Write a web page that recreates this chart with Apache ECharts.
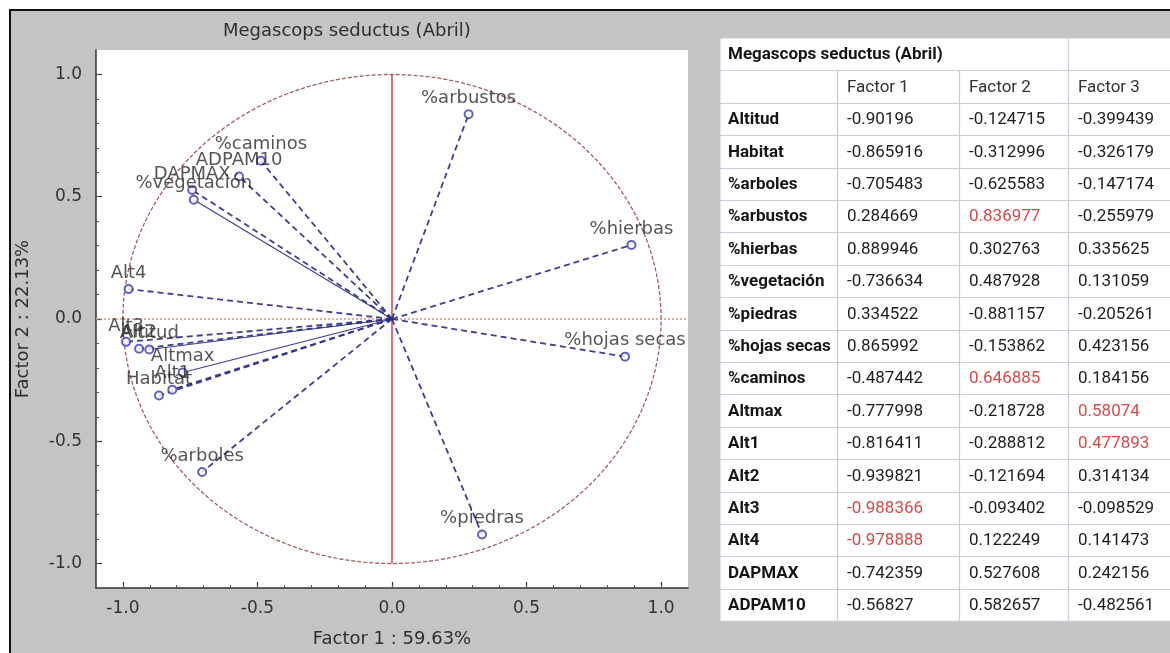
<!DOCTYPE html>
<html><head><meta charset="utf-8">
<script src="https://cdn.jsdelivr.net/npm/echarts@6/dist/echarts.min.js"></script>
<style>html,body{margin:0;padding:0;background:#fff}#c{width:1170px;height:653px}</style>
</head><body><div id="c"></div>
<script>
// ---------- data ----------
const chartTitle = 'Megascops seductus (Abril)';
const xAxisName = 'Factor 1 : 59.63%';
const yAxisName = 'Factor 2 : 22.13%';
const variables = ['Altitud','Habitat','%arboles','%arbustos','%hierbas','%vegetación','%piedras','%hojas secas','%caminos','Altmax','Alt1','Alt2','Alt3','Alt4','DAPMAX','ADPAM10'];
const factor1 = [-0.90196,-0.865916,-0.705483,0.284669,0.889946,-0.736634,0.334522,0.865992,-0.487442,-0.777998,-0.816411,-0.939821,-0.988366,-0.978888,-0.742359,-0.56827];
const factor2 = [-0.124715,-0.312996,-0.625583,0.836977,0.302763,0.487928,-0.881157,-0.153862,0.646885,-0.218728,-0.288812,-0.121694,-0.093402,0.122249,0.527608,0.582657];
const factor3 = [-0.399439,-0.326179,-0.147174,-0.255979,0.335625,0.131059,-0.205261,0.423156,0.184156,0.58074,0.477893,0.314134,-0.098529,0.141473,0.242156,-0.482561];
const tableColumns = ['Factor 1','Factor 2','Factor 3'];
const highlightedCells = [['%arbustos',1],['%caminos',1],['Altmax',2],['Alt1',2],['Alt3',0],['Alt4',0]];
const majorTicks = [-1.0,-0.5,0.0,0.5,1.0];
const minorTicks = [-1.0,-0.9,-0.8,-0.7,-0.6,-0.5,-0.4,-0.3,-0.2,-0.1,0.0,0.1,0.2,0.3,0.4,0.5,0.6,0.7,0.8,0.9,1.0];
const solidLineVars = ['%vegetación','Altmax','Altitud'];

// ---------- layout / style ----------
const PLOT_FONT = "'DejaVu Sans', Arial, sans-serif";
const TABLE_FONT = "Roboto, 'Liberation Sans', sans-serif";
const AX = { min: -1.1, max: 1.1 };

// unit circle guide (geometry, not data)
const circlePts = [];
for (let a = 0; a <= 360; a += 2) {
  const r = a * Math.PI / 180;
  circlePts.push([Math.cos(r), Math.sin(r)]);
}

const pointData = variables.map((n, i) => ({ name: n, value: [factor1[i], factor2[i]] }));
const lineData = variables.map((n, i) => ({
  coords: [[0, 0], [factor1[i], factor2[i]]],
  lineStyle: solidLineVars.includes(n) ? { type: 'solid', width: 1.2 } : { type: [6, 4], width: 1.8 }
}));

// ---------- table graphic ----------
const colX = [720, 837, 959, 1068, 1195];
const tableTop = 38, rowH = 32.4;
const gridColor = '#c4ccd8';
const redSet = new Set(highlightedCells.map(d => d[0] + '|' + d[1]));
const tableEls = [];
const nRows = variables.length + 2;
tableEls.push({ type: 'rect', shape: { x: colX[0], y: tableTop, width: colX[4] - colX[0], height: rowH * nRows }, style: { fill: '#fff', stroke: gridColor, lineWidth: 1 } });
for (let r = 1; r < nRows; r++) {
  const y = Math.round(tableTop + r * rowH) + 0.5;
  tableEls.push({ type: 'line', shape: { x1: colX[0], y1: y, x2: colX[4], y2: y }, style: { stroke: gridColor, lineWidth: 1.2 } });
}
for (let c = 1; c < 4; c++) {
  const x = colX[c] + 0.5;
  const y1 = c === 3 ? tableTop : tableTop + rowH;
  tableEls.push({ type: 'line', shape: { x1: x, y1: y1, x2: x, y2: tableTop + rowH * nRows }, style: { stroke: gridColor, lineWidth: 1.2 } });
}
function cellText(txt, c, r, bold, color) {
  tableEls.push({ type: 'text', x: colX[c] + (c === 0 ? 8 : 10), y: tableTop + r * rowH + rowH / 2 + 1,
    style: { text: txt, font: (bold ? 'bold ' : '') + '17px ' + TABLE_FONT, fill: color || '#151515', verticalAlign: 'middle', align: 'left' } });
}
cellText(chartTitle, 0, 0, true);
tableColumns.forEach((t, c) => cellText(t, c + 1, 1, false, '#333'));
const factors = [factor1, factor2, factor3];
variables.forEach((n, i) => {
  cellText(n, 0, i + 2, true);
  factors.forEach((f, c) => cellText(String(f[i]), c + 1, i + 2, false, redSet.has(n + '|' + c) ? '#d84a4a' : '#1e1e1e'));
});

const chart = echarts.init(document.getElementById('c'), null, { renderer: 'canvas' });
chart.setOption({
  backgroundColor: '#c4c4c4',
  animation: false,
  title: { text: chartTitle, left: 218, top: 17, textStyle: { fontFamily: PLOT_FONT, fontSize: 18, fontWeight: 'normal', color: '#2e2e2e' } },
  grid: { left: 96, top: 50, width: 592, height: 538, show: true, backgroundColor: '#fff', borderWidth: 0 },
  xAxis: [{
    type: 'value', min: AX.min, max: AX.max, position: 'bottom',
    name: xAxisName, nameLocation: 'middle', nameGap: 42,
    nameTextStyle: { fontFamily: PLOT_FONT, fontSize: 18, color: '#2e2e2e' },
    axisLine: { show: true, onZero: false, lineStyle: { color: '#333', width: 1.5 } },
    axisTick: { show: true, inside: true, length: 6, customValues: majorTicks, lineStyle: { color: '#333', width: 1.2 } },
    axisLabel: { customValues: majorTicks, formatter: v => v.toFixed(1), fontFamily: PLOT_FONT, fontSize: 17, color: '#333', margin: 12 },
    splitLine: { show: false }
  }, {
    type: 'value', min: AX.min, max: AX.max, position: 'bottom', offset: 0,
    axisLine: { show: false, onZero: false }, axisLabel: { show: false }, splitLine: { show: false },
    axisTick: { show: true, inside: true, length: 3, customValues: minorTicks, lineStyle: { color: '#555', width: 1 } }
  }],
  yAxis: [{
    type: 'value', min: AX.min, max: AX.max, position: 'left',
    name: yAxisName, nameLocation: 'middle', nameGap: 64,
    nameTextStyle: { fontFamily: PLOT_FONT, fontSize: 18, color: '#2e2e2e' },
    axisLine: { show: true, onZero: false, lineStyle: { color: '#333', width: 1.5 } },
    axisTick: { show: true, inside: true, length: 6, customValues: majorTicks, lineStyle: { color: '#333', width: 1.2 } },
    axisLabel: { customValues: majorTicks, formatter: v => v.toFixed(1), fontFamily: PLOT_FONT, fontSize: 17, color: '#333', margin: 14 },
    splitLine: { show: false }
  }, {
    type: 'value', min: AX.min, max: AX.max, position: 'left', offset: 0,
    axisLine: { show: false, onZero: false }, axisLabel: { show: false }, splitLine: { show: false },
    axisTick: { show: true, inside: true, length: 3, customValues: minorTicks, lineStyle: { color: '#555', width: 1 } }
  }],
  series: [
    { type: 'line', data: [[AX.min, 0], [AX.max, 0]], showSymbol: false, silent: true, z: 1,
      lineStyle: { color: '#d49a8a', width: 1.5, type: [2, 2] } },
    { type: 'line', data: circlePts, showSymbol: false, silent: true, z: 1,
      lineStyle: { color: '#a06060', width: 1.3, type: [4, 2] } },
    { type: 'line', data: [[0, -1], [0, 1]], showSymbol: false, silent: true, z: 1,
      lineStyle: { color: '#d2404c', width: 1.5 } },
    { type: 'lines', coordinateSystem: 'cartesian2d', data: lineData, silent: true, z: 2,
      lineStyle: { color: '#2f2f85', opacity: 0.92 } },
    { type: 'scatter', data: pointData, symbol: 'emptyCircle', symbolSize: 8, z: 3,
      itemStyle: { color: '#3a3ab0', borderWidth: 1.3 },
      label: { show: true, position: 'top', distance: 2, formatter: p => p.name,
        fontFamily: PLOT_FONT, fontSize: 18, color: '#2a2a2a' } }
  ],
  graphic: [
    { type: 'rect', shape: { x: 0, y: 0, width: 1170, height: 9 }, style: { fill: '#fff' }, z: 10 },
    { type: 'rect', shape: { x: 0, y: 0, width: 9, height: 653 }, style: { fill: '#fff' }, z: 10 },
    { type: 'line', shape: { x1: 9, y1: 10, x2: 1170, y2: 10 }, style: { stroke: '#111', lineWidth: 2 }, z: 10 },
    { type: 'line', shape: { x1: 10, y1: 9, x2: 10, y2: 653 }, style: { stroke: '#111', lineWidth: 2 }, z: 10 },
    { type: 'group', children: tableEls, z: 10 }
  ]
});
</script></body></html>
